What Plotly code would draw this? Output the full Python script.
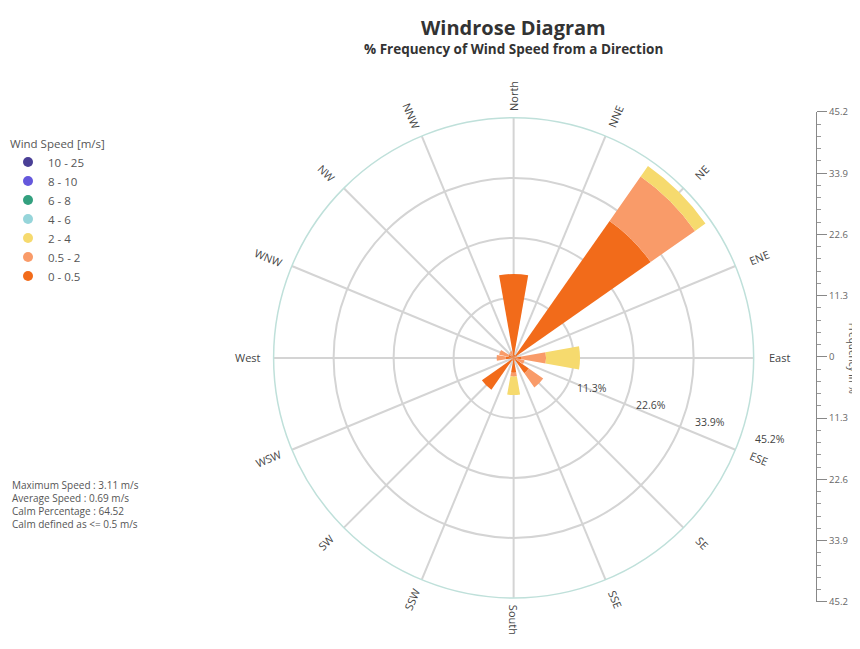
import math
import plotly.graph_objects as go

# ---------------- data ----------------
directions = ["North", "NNE", "NE", "ENE", "East", "ESE", "SE", "SSE",
              "South", "SSW", "SW", "WSW", "West", "WNW", "NW", "NNW"]
dir_angles = [0, 22.5, 45, 67.5, 90, 112.5, 135, 157.5,
              180, 202.5, 225, 247.5, 270, 292.5, 315, 337.5]

speed_bins = ["0 - 0.5", "0.5 - 2", "2 - 4", "4 - 6", "6 - 8", "8 - 10", "10 - 25"]
bin_colors = ["#F26B1A", "#F99B69", "#F6DA6E", "#96D5DA", "#33A07F", "#6558DC", "#4A3F96"]

freq_0_05 = [15.8, 0.6, 31.5, 0.2, 1.5, 0.6, 3.5, 0.3, 2.8, 0.3, 7.3, 0.2, 1.5, 1.0, 0.6, 0.5]
freq_05_2 = [0.0, 0.0, 10.2, 0.5, 4.6, 1.5, 3.3, 0.3, 0.7, 0.3, 0.0, 0.0, 1.7, 1.8, 0.5, 0.8]
freq_2_4 = [0.0, 0.0, 2.4, 0.0, 6.4, 0.0, 0.0, 0.0, 3.5, 0.0, 0.0, 0.0, 0.0, 0.0, 0.0, 0.0]
freq_4_6 = [0.0] * 16
freq_6_8 = [0.0] * 16
freq_8_10 = [0.0] * 16
freq_10_25 = [0.0] * 16
series = [freq_0_05, freq_05_2, freq_2_4, freq_4_6, freq_6_8, freq_8_10, freq_10_25]

radial_ticks = [11.3, 22.6, 33.9, 45.2]
radial_max = 45.2
side_ticks = [45.2, 33.9, 22.6, 11.3, 0, -11.3, -22.6, -33.9, -45.2]
side_ticktext = ["45.2", "33.9", "22.6", "11.3", "0", "11.3", "22.6", "33.9", "45.2"]

stats_lines = ["Maximum Speed : 3.11 m/s", "Average Speed : 0.69 m/s",
               "Calm Percentage : 64.52", "Calm defined as <= 0.5 m/s"]

# ---------------- layout geometry (page pixels; page has an 8px body margin) ----------------
OFF = 8
W, H = 860 - OFF, 649 - OFF
CX, CY, R = 512, 358, 245
FONT = "'Open Sans', sans-serif"


def px(x):
    return (x - OFF) / W


def py(y):
    return 1 - (y - OFF) / H


fig = go.Figure()

for name, vals, col in zip(speed_bins, series, bin_colors):
    fig.add_trace(go.Barpolar(
        r=vals, theta=dir_angles, name=name, width=20,
        marker=dict(color=col, line=dict(width=0)),
        showlegend=False, subplot="polar"))

# legend entries with round markers
for i, (name, col) in enumerate(zip(speed_bins, bin_colors)):
    fig.add_trace(go.Scatterpolar(
        r=[None], theta=[None], mode="markers", name=name,
        marker=dict(color=col, size=10, symbol="circle"),
        legendrank=100 - i, showlegend=True, subplot="polar"))

# side frequency axis
fig.add_trace(go.Scatter(x=[0, 0], y=[side_ticks[-1], side_ticks[0]], mode="none",
                         hoverinfo="skip", showlegend=False, xaxis="x", yaxis="y"))

fig.update_layout(
    width=W, height=H,
    margin=dict(l=0, r=0, t=0, b=0),
    paper_bgcolor="white", plot_bgcolor="white",
    font=dict(family=FONT, color="#555555", size=10),
    showlegend=True,
    legend=dict(x=px(4), y=py(128), xanchor="left", yanchor="top",
                title=dict(text="Wind Speed [m/s]", font=dict(size=11.5, color="#555555")),
                font=dict(size=11.5, color="#555555"), itemwidth=30,
                tracegroupgap=0, bgcolor="rgba(0,0,0,0)"),
    polar=dict(
        domain=dict(x=[px(CX - R), px(CX + R)], y=[py(CY + R), py(CY - R)]),
        bgcolor="white",
        barmode="stack",
        radialaxis=dict(range=[0, radial_max], tickvals=radial_ticks,
                        showticklabels=False, ticks="", showline=False,
                        gridcolor="#d4d4d4", gridwidth=1.5, angle=-22.5),
        angularaxis=dict(direction="clockwise", rotation=90,
                         tickvals=dir_angles, showticklabels=False, ticks="",
                         gridcolor="#d4d4d4", gridwidth=1.5,
                         showline=True, linecolor="#bfe0da", linewidth=1.5),
    ),
    xaxis=dict(domain=[px(790), px(800)], visible=False, range=[-1, 1]),
    yaxis=dict(anchor="free", position=px(816), side="right",
               domain=[py(607), py(107)], range=[side_ticks[-1], side_ticks[0]],
               tickvals=side_ticks, ticktext=side_ticktext,
               ticks="outside", ticklen=10, tickcolor="#888888", tickwidth=1,
               showline=True, linecolor="#888888", linewidth=1,
               showgrid=False, zeroline=False,
               tickfont=dict(size=9.5, color="#666666"),
               minor=dict(dtick=2.26, ticks="outside", ticklen=4,
                          tickcolor="#999999", showgrid=False)),
)

annotations = []


def ann(text, x, y, size, color="#444444", angle=0, xanchor="center", yanchor="middle",
        align="center"):
    annotations.append(dict(text=text, x=px(x), y=py(y), xref="paper", yref="paper",
                            showarrow=False, textangle=angle, xanchor=xanchor,
                            yanchor=yanchor, align=align,
                            font=dict(size=size, color=color, family=FONT)))


# title / subtitle
ann("<b>Windrose Diagram</b>", CX, 21, 20, "#333333")
ann("<b>% Frequency of Wind Speed from a Direction</b>", CX, 43, 13.5, "#333333")
# direction labels
for name, a in zip(directions, dir_angles):
    rad = math.radians(a)
    rr = R + 22
    x = CX + rr * math.sin(rad)
    y = CY - rr * math.cos(rad)
    ang = a - 90 if a <= 180 else a - 270
    ann(name, x, y, 11, "#444444", angle=ang)
# radial tick labels along ESE
rad_dir = math.radians(112.5)
for k, t in enumerate(radial_ticks):
    rr = t / radial_max * R
    x = CX + rr * math.sin(rad_dir) + 22 + 3 * k
    y = CY - rr * math.cos(rad_dir) + 7 - 6 * k
    ann(f"{t}%", x, y, 10.5, "#444444")
# side axis title
ann("Frequency in %", 853, CY, 10, "#555555", angle=90)
# stats
ann("<br>".join(stats_lines), 6, 508, 10, "#555555", xanchor="left", align="left")
fig.update_layout(annotations=annotations)

fig.write_html("out.html")
